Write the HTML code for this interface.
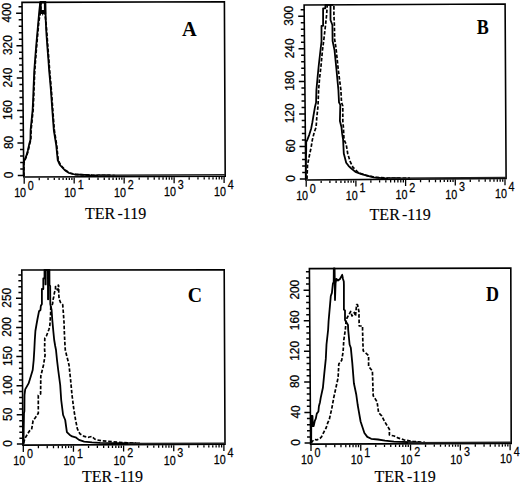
<!DOCTYPE html><html><head><meta charset="utf-8"><style>html,body{margin:0;padding:0;background:#fff;}svg{display:block} .s{font-family:"Liberation Sans",sans-serif} .r{font-family:"Liberation Serif",serif}</style></head><body>
<svg width="520" height="484" viewBox="0 0 520 484">
<rect width="520" height="484" fill="#fff"/>
<g><polyline points="23.9,176 23.9,163 24.6,161 26.7,155.9 28.2,150.7 29.8,143.4 30.8,140 31.1,130 33.1,110 33.6,100 34,89 34.8,70 36.1,53 37.2,40 38.9,21 40.2,14 40.8,8 40.8,1.8 44.9,1.8 44.9,14 46,22 47,35 48.1,50 48.9,60 49.6,70 50.5,80 51.3,89 52.1,100 52.8,110 54.3,130 56.7,145 58.2,160 60.5,165 65.1,170 69.5,173 76,174.5 92,175.2 115,175.5" fill="none" stroke="#000" stroke-width="1.7" stroke-dasharray="3.6 1.8" stroke-linejoin="round"/><polyline points="23.6,176 23.6,163 24.2,161 26.3,155.9 27.8,150.7 29.4,143.4 30.4,140 30.6,130 32.6,110 33.1,100 33.5,89 34.3,70 35.6,53 36.7,40 38.4,21 39,14 39.6,8 40.3,1.8 45.4,1.8 45.5,10 45.8,22 46.5,35 47.6,50 48.4,60 49.1,70 50,80 50.8,89 51.6,100 52.3,110 53.8,130 56.2,145 57.7,160 60,165 64.6,170 69,173 75,174.5 90,175.2 110,175.5" fill="none" stroke="#000" stroke-width="1.8" stroke-linejoin="round"/><path d="M39.5,2L46,2L46.2,14L43.5,14L42.8,16L42,14L39.2,14Z M41.7,3.5L43.9,3.5L43.9,10L41.7,10Z" fill="#000" fill-rule="evenodd"/><polygon points="22,2.4 224.4,1.7 225.2,176.3 23.8,177" fill="none" stroke="#000" stroke-width="1.6"/><line x1="98" y1="175.14" x2="225.2" y2="174.7" stroke="#222" stroke-width="1.5"/><path d="M23.78,175.4h-6M23.72,168.91h-3.5M23.65,162.42h-3.5M23.58,155.94h-3.5M23.52,149.45h-3.5M23.45,142.96h-6M23.38,136.47h-3.5M23.32,129.98h-3.5M23.25,123.5h-3.5M23.18,117.01h-3.5M23.11,110.52h-6M23.05,104.03h-3.5M22.98,97.54h-3.5M22.91,91.06h-3.5M22.85,84.57h-3.5M22.78,78.08h-6M22.71,71.59h-3.5M22.65,65.1h-3.5M22.58,58.62h-3.5M22.51,52.13h-3.5M22.45,45.64h-6M22.38,39.15h-3.5M22.31,32.66h-3.5M22.25,26.18h-3.5M22.18,19.69h-3.5M22.11,13.2h-6M22.04,6.71h-3.5" stroke="#000" stroke-width="1.5" fill="none"/><path d="M24.2,177.8v6M39.24,177.75v2.4M48.04,177.72v2.4M54.29,177.69v2.4M59.13,177.68v2.4M63.09,177.66v2.4M66.43,177.65v2.4M69.33,177.64v2.4M71.89,177.63v2.4M74.17,177.62v6M89.22,177.57v2.4M98.02,177.54v2.4M104.26,177.52v2.4M109.11,177.5v2.4M113.06,177.49v2.4M116.41,177.48v2.4M119.31,177.47v2.4M121.86,177.46v2.4M124.15,177.45v6M139.19,177.4v2.4M147.99,177.37v2.4M154.24,177.35v2.4M159.08,177.33v2.4M163.04,177.32v2.4M166.38,177.3v2.4M169.28,177.29v2.4M171.84,177.29v2.4M174.12,177.28v6M189.17,177.23v2.4M197.97,177.19v2.4M204.21,177.17v2.4M209.06,177.16v2.4M213.01,177.14v2.4M216.36,177.13v2.4M219.26,177.12v2.4M221.81,177.11v2.4M224.1,177.1v6" stroke="#000" stroke-width="1.3" fill="none"/><text transform="translate(12.98,174.9) rotate(-90) scale(0.95,1)" text-anchor="middle" class="s" font-size="12.5" stroke="#000" stroke-width="0.25">0</text><text transform="translate(12.65,142.46) rotate(-90) scale(0.95,1)" text-anchor="middle" class="s" font-size="12.5" stroke="#000" stroke-width="0.25">80</text><text transform="translate(12.31,110.02) rotate(-90) scale(0.95,1)" text-anchor="middle" class="s" font-size="12.5" stroke="#000" stroke-width="0.25">160</text><text transform="translate(11.98,77.58) rotate(-90) scale(0.95,1)" text-anchor="middle" class="s" font-size="12.5" stroke="#000" stroke-width="0.25">240</text><text transform="translate(11.65,45.14) rotate(-90) scale(0.95,1)" text-anchor="middle" class="s" font-size="12.5" stroke="#000" stroke-width="0.25">320</text><text transform="translate(11.31,12.7) rotate(-90) scale(0.95,1)" text-anchor="middle" class="s" font-size="12.5" stroke="#000" stroke-width="0.25">400</text><text transform="translate(26.1,197) scale(0.84,1)" text-anchor="end" class="s" font-size="12.8" stroke="#000" stroke-width="0.25">10</text><text transform="translate(27.8,189.6) scale(0.84,1)" class="s" font-size="12.8" stroke="#000" stroke-width="0.25">0</text><text transform="translate(76.08,196.82) scale(0.84,1)" text-anchor="end" class="s" font-size="12.8" stroke="#000" stroke-width="0.25">10</text><text transform="translate(77.78,189.42) scale(0.84,1)" class="s" font-size="12.8" stroke="#000" stroke-width="0.25">1</text><text transform="translate(126.05,196.65) scale(0.84,1)" text-anchor="end" class="s" font-size="12.8" stroke="#000" stroke-width="0.25">10</text><text transform="translate(127.75,189.25) scale(0.84,1)" class="s" font-size="12.8" stroke="#000" stroke-width="0.25">2</text><text transform="translate(176.03,196.48) scale(0.84,1)" text-anchor="end" class="s" font-size="12.8" stroke="#000" stroke-width="0.25">10</text><text transform="translate(177.72,189.08) scale(0.84,1)" class="s" font-size="12.8" stroke="#000" stroke-width="0.25">3</text><text transform="translate(226,196.3) scale(0.84,1)" text-anchor="end" class="s" font-size="12.8" stroke="#000" stroke-width="0.25">10</text><text transform="translate(227.7,188.9) scale(0.84,1)" class="s" font-size="12.8" stroke="#000" stroke-width="0.25">4</text><text transform="translate(182,35.7) scale(1.02,1)" class="r" font-weight="bold" font-size="20">A</text><text x="85" y="218.7" class="r" font-size="16" stroke="#000" stroke-width="0.15">TER<tspan dx="2.2">-119</tspan></text></g>
<g><polyline points="307,179 307.5,165 309.2,156.5 311.2,147 312.4,139.6 314.3,132.1 316.1,127.2 316.7,118.5 318,106 318.6,90 319.6,78 321,66 322.5,50 323.8,40 325.2,28 326.6,15 327.2,6 327.4,4.8 333.9,4.8 333.9,15 334.4,25 334.6,39 336,48 338.3,70 340.9,90 341.5,102.4 342.8,106 342.8,121 343.4,127.2 344,139.6 346.2,144.2 347.7,153.5 350,161.2 353,167.3 358.5,172.7 366.2,175.3 375.4,177.3 390,178.2 410,178.1" fill="none" stroke="#000" stroke-width="1.7" stroke-dasharray="3.6 1.8" stroke-linejoin="round"/><polyline points="305.8,179 305.9,163 306.2,150 306.2,142 307.4,139.6 309.3,134.6 311.2,128.4 312.4,122.2 313.6,114.8 314.9,107.3 316.1,102.4 316.4,90 317.8,75 318.8,65 320.5,50 321.5,41.3 321.5,25.8 323.1,25.8 323.1,8.3 325.3,8.3 325.5,4.8 330.5,4.8 330.5,20 332.4,25 332.6,41 334.5,50 336.5,70 338.4,90 339,102.4 340.3,104.9 339.9,121 341.5,127.2 342.1,133.4 343.1,139.6 343.8,153.5 346.2,162.7 348.5,165.8 350.8,168 355.4,171.9 361.5,174.2 367.7,175.8 373.8,177.3 385,178.3 400,178.2" fill="none" stroke="#000" stroke-width="1.8" stroke-linejoin="round"/><polygon points="304.1,5 505.1,4 506.1,178.4 305.8,180" fill="none" stroke="#000" stroke-width="1.6"/><line x1="388" y1="178.34" x2="506.1" y2="177.4" stroke="#222" stroke-width="1.5"/><path d="M305.79,179h-6M305.73,172.49h-3.5M305.66,165.98h-3.5M305.6,159.48h-3.5M305.54,152.97h-3.5M305.47,146.46h-6M305.41,139.95h-3.5M305.35,133.45h-3.5M305.28,126.94h-3.5M305.22,120.43h-3.5M305.16,113.92h-6M305.09,107.42h-3.5M305.03,100.91h-3.5M304.97,94.4h-3.5M304.91,87.89h-3.5M304.84,81.39h-6M304.78,74.88h-3.5M304.72,68.37h-3.5M304.65,61.86h-3.5M304.59,55.36h-3.5M304.53,48.85h-6M304.46,42.34h-3.5M304.4,35.83h-3.5M304.34,29.33h-3.5M304.27,22.82h-3.5M304.21,16.31h-6M304.15,9.8h-3.5" stroke="#000" stroke-width="1.5" fill="none"/><path d="M306.2,180.8v6M321.16,180.68v2.4M329.91,180.61v2.4M336.12,180.56v2.4M340.94,180.52v2.4M344.87,180.49v2.4M348.2,180.46v2.4M351.08,180.44v2.4M353.63,180.42v2.4M355.9,180.4v6M370.86,180.28v2.4M379.61,180.21v2.4M385.82,180.16v2.4M390.64,180.12v2.4M394.57,180.09v2.4M397.9,180.06v2.4M400.78,180.04v2.4M403.33,180.02v2.4M405.6,180v6M420.56,179.88v2.4M429.31,179.81v2.4M435.52,179.76v2.4M440.34,179.73v2.4M444.27,179.69v2.4M447.6,179.67v2.4M450.48,179.64v2.4M453.03,179.62v2.4M455.3,179.61v6M470.26,179.49v2.4M479.01,179.42v2.4M485.22,179.37v2.4M490.04,179.33v2.4M493.97,179.3v2.4M497.3,179.27v2.4M500.18,179.25v2.4M502.73,179.23v2.4M505,179.21v6" stroke="#000" stroke-width="1.3" fill="none"/><text transform="translate(294.99,178.5) rotate(-90) scale(0.95,1)" text-anchor="middle" class="s" font-size="12.5" stroke="#000" stroke-width="0.25">0</text><text transform="translate(294.67,145.96) rotate(-90) scale(0.95,1)" text-anchor="middle" class="s" font-size="12.5" stroke="#000" stroke-width="0.25">60</text><text transform="translate(294.36,113.42) rotate(-90) scale(0.95,1)" text-anchor="middle" class="s" font-size="12.5" stroke="#000" stroke-width="0.25">120</text><text transform="translate(294.04,80.89) rotate(-90) scale(0.95,1)" text-anchor="middle" class="s" font-size="12.5" stroke="#000" stroke-width="0.25">180</text><text transform="translate(293.73,48.35) rotate(-90) scale(0.95,1)" text-anchor="middle" class="s" font-size="12.5" stroke="#000" stroke-width="0.25">240</text><text transform="translate(293.41,15.81) rotate(-90) scale(0.95,1)" text-anchor="middle" class="s" font-size="12.5" stroke="#000" stroke-width="0.25">300</text><text transform="translate(308.1,200) scale(0.84,1)" text-anchor="end" class="s" font-size="12.8" stroke="#000" stroke-width="0.25">10</text><text transform="translate(309.8,192.6) scale(0.84,1)" class="s" font-size="12.8" stroke="#000" stroke-width="0.25">0</text><text transform="translate(357.8,199.6) scale(0.84,1)" text-anchor="end" class="s" font-size="12.8" stroke="#000" stroke-width="0.25">10</text><text transform="translate(359.5,192.2) scale(0.84,1)" class="s" font-size="12.8" stroke="#000" stroke-width="0.25">1</text><text transform="translate(407.5,199.2) scale(0.84,1)" text-anchor="end" class="s" font-size="12.8" stroke="#000" stroke-width="0.25">10</text><text transform="translate(409.2,191.8) scale(0.84,1)" class="s" font-size="12.8" stroke="#000" stroke-width="0.25">2</text><text transform="translate(457.2,198.81) scale(0.84,1)" text-anchor="end" class="s" font-size="12.8" stroke="#000" stroke-width="0.25">10</text><text transform="translate(458.9,191.41) scale(0.84,1)" class="s" font-size="12.8" stroke="#000" stroke-width="0.25">3</text><text transform="translate(506.9,198.41) scale(0.84,1)" text-anchor="end" class="s" font-size="12.8" stroke="#000" stroke-width="0.25">10</text><text transform="translate(508.6,191.01) scale(0.84,1)" class="s" font-size="12.8" stroke="#000" stroke-width="0.25">4</text><text transform="translate(476.7,33.8) scale(0.9,1)" class="r" font-weight="bold" font-size="20">B</text><text x="369.6" y="220.1" class="r" font-size="16" stroke="#000" stroke-width="0.15">TER<tspan dx="2.2">-119</tspan></text></g>
<g><polyline points="23.6,443 24.9,438.5 29.4,431 31.6,429.6 33.1,420.6 35.3,417.7 38.3,413.2 38.3,395.3 40.6,393.9 40.8,376 43.5,365 45.1,355 44.6,350 44.8,338 46.4,336 48.9,329.5 49.8,326 50.6,314.6 50.8,306 52.6,304 52.9,300.3 53.7,297 54.5,292.3 55.5,290 55.5,286.6 56.5,287 57.5,290 58.2,288.4 58.3,285.1 58.6,285.5 58.8,294.5 59.1,298.8 60.5,302.5 62.7,304.6 63,308.2 63.5,315 64,322 64.3,331 64.8,342 65.3,350 66.5,355 67.8,360 69,365 70.6,380 72,395 73.9,410 75.6,420 77.3,428.7 79.9,433.8 84.2,436.4 88.5,437.3 92,436.4 94.6,439 97.2,439.9 101.5,440.8 108,441.3 117,442.2 136,443.2" fill="none" stroke="#000" stroke-width="1.7" stroke-dasharray="3.6 1.8" stroke-linejoin="round"/><polyline points="23.6,444 23.7,430 24,413 24.4,411 24.5,395 25.2,389.4 28.6,383.4 30.9,376 32.7,370 33.7,360 34.3,350 34.8,340 35.4,331 36.5,324.5 37.4,319.5 39,311.3 40.5,310 40.8,306 41.9,304 41.9,289 43.3,289 43.3,278.4 44.5,278.4 44.5,269.8 45.4,269.8 45.5,284.4 45.7,284.4 45.8,269.8 47.9,269.8 48,299.3 48.2,299.3 48.3,269.8 49.4,269.8 49.5,285 50.2,286 50.3,304 51.6,310 52.3,320 53.3,331 54.2,340 55.2,346 56,350 57,360 58.2,370 60.2,385 61.2,400 63.1,415 65.2,420 66.9,432.1 69.5,434.7 72.1,436.4 75.6,437.3 79,439.9 84.2,441.6 92,442.3 100,442.8 140,443.5" fill="none" stroke="#000" stroke-width="1.8" stroke-linejoin="round"/><polygon points="21.8,270 224.2,269.8 225,444.3 22.9,445.1" fill="none" stroke="#000" stroke-width="1.6"/><line x1="128" y1="443.58" x2="225" y2="443.2" stroke="#222" stroke-width="1.5"/><path d="M22.89,444h-6M22.86,438.17h-3.5M22.82,432.34h-3.5M22.78,426.52h-3.5M22.75,420.69h-3.5M22.71,414.86h-6M22.67,409.03h-3.5M22.64,403.2h-3.5M22.6,397.38h-3.5M22.56,391.55h-3.5M22.53,385.72h-6M22.49,379.89h-3.5M22.45,374.06h-3.5M22.42,368.24h-3.5M22.38,362.41h-3.5M22.34,356.58h-6M22.31,350.75h-3.5M22.27,344.92h-3.5M22.23,339.1h-3.5M22.2,333.27h-3.5M22.16,327.44h-6M22.12,321.61h-3.5M22.09,315.78h-3.5M22.05,309.96h-3.5M22.01,304.13h-3.5M21.98,298.3h-6M21.94,292.47h-3.5M21.9,286.64h-3.5M21.87,280.82h-3.5M21.83,274.99h-3.5" stroke="#000" stroke-width="1.5" fill="none"/><path d="M23.3,445.9v6M38.4,445.84v2.4M47.23,445.8v2.4M53.49,445.78v2.4M58.35,445.76v2.4M62.32,445.74v2.4M65.68,445.73v2.4M68.59,445.72v2.4M71.16,445.71v2.4M73.45,445.7v6M88.55,445.64v2.4M97.38,445.61v2.4M103.64,445.58v2.4M108.5,445.56v2.4M112.47,445.55v2.4M115.83,445.53v2.4M118.74,445.52v2.4M121.31,445.51v2.4M123.6,445.5v6M138.7,445.44v2.4M147.53,445.41v2.4M153.79,445.38v2.4M158.65,445.36v2.4M162.62,445.35v2.4M165.98,445.33v2.4M168.89,445.32v2.4M171.46,445.31v2.4M173.75,445.3v6M188.85,445.24v2.4M197.68,445.21v2.4M203.94,445.18v2.4M208.8,445.16v2.4M212.77,445.15v2.4M216.13,445.14v2.4M219.04,445.12v2.4M221.61,445.11v2.4M223.9,445.1v6" stroke="#000" stroke-width="1.3" fill="none"/><text transform="translate(12.09,443.5) rotate(-90) scale(0.95,1)" text-anchor="middle" class="s" font-size="12.5" stroke="#000" stroke-width="0.25">0</text><text transform="translate(11.91,414.36) rotate(-90) scale(0.95,1)" text-anchor="middle" class="s" font-size="12.5" stroke="#000" stroke-width="0.25">50</text><text transform="translate(11.73,385.22) rotate(-90) scale(0.95,1)" text-anchor="middle" class="s" font-size="12.5" stroke="#000" stroke-width="0.25">100</text><text transform="translate(11.54,356.08) rotate(-90) scale(0.95,1)" text-anchor="middle" class="s" font-size="12.5" stroke="#000" stroke-width="0.25">150</text><text transform="translate(11.36,326.94) rotate(-90) scale(0.95,1)" text-anchor="middle" class="s" font-size="12.5" stroke="#000" stroke-width="0.25">200</text><text transform="translate(11.18,297.8) rotate(-90) scale(0.95,1)" text-anchor="middle" class="s" font-size="12.5" stroke="#000" stroke-width="0.25">250</text><text transform="translate(25.2,465.1) scale(0.84,1)" text-anchor="end" class="s" font-size="12.8" stroke="#000" stroke-width="0.25">10</text><text transform="translate(26.9,457.7) scale(0.84,1)" class="s" font-size="12.8" stroke="#000" stroke-width="0.25">0</text><text transform="translate(75.35,464.9) scale(0.84,1)" text-anchor="end" class="s" font-size="12.8" stroke="#000" stroke-width="0.25">10</text><text transform="translate(77.05,457.5) scale(0.84,1)" class="s" font-size="12.8" stroke="#000" stroke-width="0.25">1</text><text transform="translate(125.5,464.7) scale(0.84,1)" text-anchor="end" class="s" font-size="12.8" stroke="#000" stroke-width="0.25">10</text><text transform="translate(127.2,457.3) scale(0.84,1)" class="s" font-size="12.8" stroke="#000" stroke-width="0.25">2</text><text transform="translate(175.65,464.5) scale(0.84,1)" text-anchor="end" class="s" font-size="12.8" stroke="#000" stroke-width="0.25">10</text><text transform="translate(177.35,457.1) scale(0.84,1)" class="s" font-size="12.8" stroke="#000" stroke-width="0.25">3</text><text transform="translate(225.8,464.3) scale(0.84,1)" text-anchor="end" class="s" font-size="12.8" stroke="#000" stroke-width="0.25">10</text><text transform="translate(227.5,456.9) scale(0.84,1)" class="s" font-size="12.8" stroke="#000" stroke-width="0.25">4</text><text transform="translate(187.8,301.8) scale(0.99,1)" class="r" font-weight="bold" font-size="20">C</text><text x="81.9" y="481.9" class="r" font-size="16" stroke="#000" stroke-width="0.15">TER<tspan dx="2.2">-119</tspan></text></g>
<g><polyline points="311.2,443 312.2,441.5 314.3,439.4 316.8,439.9 320,438.4 321.5,436.8 324.1,431.6 326.1,428 327.7,422.9 329.2,419.8 331.7,409 333.7,397.9 335.9,387.8 338.1,377.7 338.8,364 341.7,360.3 343.1,351.7 343.8,340.1 345.3,330 346,322 347,318 350.7,311.5 352,316 354.4,312.4 355.5,316 356.6,304.6 357.5,304.6 358.9,311.5 359.2,326 362.5,326 362.8,340 363.2,350.8 368.6,355.5 368.6,366.3 372.4,371 373.2,395.7 377.1,401.9 378.6,412.8 381.7,415.8 384.6,421.5 387.5,426.3 389.4,429.2 389.4,435 394.2,436 398,437.9 403.8,439.8 413.5,441.5 425,442.4" fill="none" stroke="#000" stroke-width="1.7" stroke-dasharray="3.6 1.8" stroke-linejoin="round"/><polyline points="311.2,443 311.3,416 312.5,416 312.8,426 313.7,426 314.8,420.8 315.8,418.7 316.8,413.6 318.4,411.5 318.9,406.3 320,402.2 320.7,397.9 322.9,387.8 324.3,373.4 325.8,358.9 326.5,344.5 328.1,330 328.6,321 329.8,307.4 330.8,296 331.9,292.9 332.9,283.6 333.7,282 333.8,268.4 334.6,268.4 335,300 335.6,283 336.4,279 338,280.5 340,279 342.2,274.8 343,279 343.8,281.5 343.9,285 343.9,309.6 345,310.5 345,320 348,325 348.2,330 349.6,344.5 350.8,347.7 352.3,363.2 353.9,383.3 356.2,394.2 357.7,405 358.5,409.7 360.6,421.5 362.5,427.3 364.4,433 367.3,436.9 371.2,438.8 378,439.5 385,440.6 394,441.6 420,442.5" fill="none" stroke="#000" stroke-width="1.8" stroke-linejoin="round"/><polygon points="309.4,268.6 510.8,268.1 511.2,443.4 310.6,444.1" fill="none" stroke="#000" stroke-width="1.6"/><line x1="408" y1="442.66" x2="511.2" y2="442.3" stroke="#222" stroke-width="1.5"/><path d="M310.59,443h-6M310.55,436.89h-3.5M310.51,430.78h-3.5M310.47,424.66h-3.5M310.43,418.55h-3.5M310.38,412.44h-6M310.34,406.33h-3.5M310.3,400.22h-3.5M310.26,394.1h-3.5M310.22,387.99h-3.5M310.17,381.88h-6M310.13,375.77h-3.5M310.09,369.66h-3.5M310.05,363.54h-3.5M310.01,357.43h-3.5M309.97,351.32h-6M309.92,345.21h-3.5M309.88,339.1h-3.5M309.84,332.98h-3.5M309.8,326.87h-3.5M309.76,320.76h-6M309.71,314.65h-3.5M309.67,308.54h-3.5M309.63,302.42h-3.5M309.59,296.31h-3.5M309.55,290.2h-6M309.51,284.09h-3.5M309.46,277.98h-3.5M309.42,271.86h-3.5" stroke="#000" stroke-width="1.5" fill="none"/><path d="M311,444.9v6M325.98,444.85v2.4M334.75,444.82v2.4M340.97,444.79v2.4M345.79,444.78v2.4M349.73,444.76v2.4M353.06,444.75v2.4M355.95,444.74v2.4M358.5,444.73v2.4M360.77,444.72v6M375.76,444.67v2.4M384.52,444.64v2.4M390.74,444.62v2.4M395.57,444.6v2.4M399.51,444.59v2.4M402.84,444.58v2.4M405.73,444.57v2.4M408.27,444.56v2.4M410.55,444.55v6M425.53,444.5v2.4M434.3,444.47v2.4M440.52,444.45v2.4M445.34,444.43v2.4M449.28,444.42v2.4M452.61,444.4v2.4M455.5,444.39v2.4M458.05,444.39v2.4M460.32,444.38v6M475.31,444.33v2.4M484.07,444.29v2.4M490.29,444.27v2.4M495.12,444.26v2.4M499.06,444.24v2.4M502.39,444.23v2.4M505.28,444.22v2.4M507.82,444.21v2.4M510.1,444.2v6" stroke="#000" stroke-width="1.3" fill="none"/><text transform="translate(299.79,442.5) rotate(-90) scale(0.95,1)" text-anchor="middle" class="s" font-size="12.5" stroke="#000" stroke-width="0.25">0</text><text transform="translate(299.58,411.94) rotate(-90) scale(0.95,1)" text-anchor="middle" class="s" font-size="12.5" stroke="#000" stroke-width="0.25">40</text><text transform="translate(299.37,381.38) rotate(-90) scale(0.95,1)" text-anchor="middle" class="s" font-size="12.5" stroke="#000" stroke-width="0.25">80</text><text transform="translate(299.17,350.82) rotate(-90) scale(0.95,1)" text-anchor="middle" class="s" font-size="12.5" stroke="#000" stroke-width="0.25">120</text><text transform="translate(298.96,320.26) rotate(-90) scale(0.95,1)" text-anchor="middle" class="s" font-size="12.5" stroke="#000" stroke-width="0.25">160</text><text transform="translate(298.75,289.7) rotate(-90) scale(0.95,1)" text-anchor="middle" class="s" font-size="12.5" stroke="#000" stroke-width="0.25">200</text><text transform="translate(312.9,464.1) scale(0.84,1)" text-anchor="end" class="s" font-size="12.8" stroke="#000" stroke-width="0.25">10</text><text transform="translate(314.6,456.7) scale(0.84,1)" class="s" font-size="12.8" stroke="#000" stroke-width="0.25">0</text><text transform="translate(362.67,463.92) scale(0.84,1)" text-anchor="end" class="s" font-size="12.8" stroke="#000" stroke-width="0.25">10</text><text transform="translate(364.37,456.52) scale(0.84,1)" class="s" font-size="12.8" stroke="#000" stroke-width="0.25">1</text><text transform="translate(412.45,463.75) scale(0.84,1)" text-anchor="end" class="s" font-size="12.8" stroke="#000" stroke-width="0.25">10</text><text transform="translate(414.15,456.35) scale(0.84,1)" class="s" font-size="12.8" stroke="#000" stroke-width="0.25">2</text><text transform="translate(462.22,463.58) scale(0.84,1)" text-anchor="end" class="s" font-size="12.8" stroke="#000" stroke-width="0.25">10</text><text transform="translate(463.92,456.18) scale(0.84,1)" class="s" font-size="12.8" stroke="#000" stroke-width="0.25">3</text><text transform="translate(512,463.4) scale(0.84,1)" text-anchor="end" class="s" font-size="12.8" stroke="#000" stroke-width="0.25">10</text><text transform="translate(513.7,456) scale(0.84,1)" class="s" font-size="12.8" stroke="#000" stroke-width="0.25">4</text><text transform="translate(485.9,301) scale(0.9,1)" class="r" font-weight="bold" font-size="20">D</text><text x="374.5" y="481.6" class="r" font-size="16" stroke="#000" stroke-width="0.15">TER<tspan dx="2.2">-119</tspan></text></g>
</svg></body></html>
